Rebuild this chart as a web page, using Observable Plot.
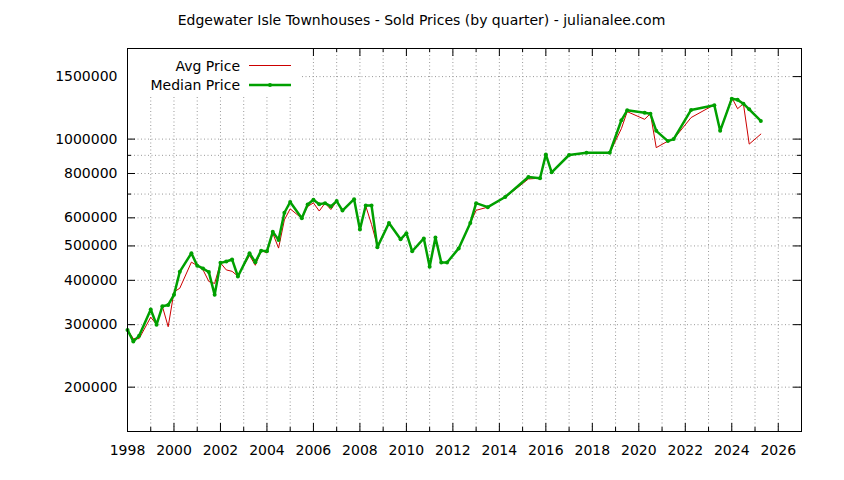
<!DOCTYPE html>
<html>
<head>
<meta charset="utf-8">
<script src="https://cdn.jsdelivr.net/npm/d3@7"></script>
<script src="https://cdn.jsdelivr.net/npm/@observablehq/plot@0.6"></script>
<style>
  html, body { margin: 0; padding: 0; background: white; }
  #wrap { position: relative; width: 844px; height: 480px; }
  #legend { position: absolute; left: 0; top: 0; pointer-events: none; }
</style>
</head>
<body>
<div id="wrap"></div>
<script>
const chartTitle = "Edgewater Isle Townhouses - Sold Prices (by quarter) - julianalee.com";
const seriesNames = ["Avg Price", "Median Price"];

const quarters = [
  1998.0, 1998.25, 1998.5, 1999.0, 1999.25, 1999.5, 1999.75,
  2000.0, 2000.25, 2000.75, 2001.0, 2001.25, 2001.5, 2001.75,
  2002.0, 2002.25, 2002.5, 2002.75, 2003.25, 2003.5, 2003.75,
  2004.0, 2004.25, 2004.5, 2004.75, 2005.0, 2005.5, 2005.75,
  2006.0, 2006.25, 2006.5, 2006.75, 2007.0, 2007.25, 2007.75,
  2008.0, 2008.25, 2008.5, 2008.75, 2009.25, 2009.75,
  2010.0, 2010.25, 2010.75, 2011.0, 2011.25, 2011.5, 2011.75,
  2012.25, 2012.75, 2013.0, 2013.5, 2014.25, 2015.25, 2015.75,
  2016.0, 2016.25, 2017.0, 2017.75, 2018.75, 2019.25, 2019.5,
  2020.25, 2020.5, 2020.75, 2021.25, 2021.5, 2022.25, 2023.25,
  2023.5, 2024.0, 2024.25, 2024.5, 2024.75, 2025.25
];

const avgPrices = [
  290000, 274000, 274000, 315000, 300000, 338000, 296000,
  371000, 380000, 450000, 440000, 428000, 397000, 392000,
  448000, 428000, 424000, 411000, 470000, 441000, 485000,
  478000, 543000, 493000, 592000, 636000, 598000, 646000,
  661000, 627000, 660000, 633000, 668000, 628000, 676000,
  556000, 648000, 575000, 500000, 580000, 522000,
  543000, 483000, 525000, 437000, 528000, 449000, 449000,
  492000, 580000, 630000, 643000, 685000, 772000, 776000,
  905000, 806000, 902000, 915000, 915000, 1070000, 1195000,
  1137000, 1180000, 946000, 987000, 1000000, 1150000, 1250000,
  1055000, 1310000, 1218000, 1258000, 968000, 1033000
];

const medianPrices = [
  290000, 269000, 279000, 331000, 300000, 338000, 341000,
  364000, 423000, 477000, 440000, 432000, 422000, 364000,
  448000, 452000, 458000, 410000, 477000, 450000, 485000,
  483000, 548000, 520000, 620000, 665000, 598000, 654000,
  675000, 655000, 660000, 646000, 669000, 629000, 677000,
  556000, 650000, 650000, 496000, 580000, 522000,
  543000, 483000, 525000, 437000, 528000, 449000, 449000,
  492000, 580000, 660000, 643000, 687000, 782000, 776000,
  905000, 806000, 902000, 915000, 915000, 1130000, 1205000,
  1187000, 1178000, 1055000, 987000, 1000000, 1208000, 1245000,
  1055000, 1300000, 1290000, 1258000, 1213000, 1125000
];

const xMajorTicks = [1998, 2000, 2002, 2004, 2006, 2008, 2010, 2012, 2014, 2016, 2018, 2020, 2022, 2024, 2026];
const xMinorTicks = [1999, 2001, 2003, 2005, 2007, 2009, 2011, 2013, 2015, 2017, 2019, 2021, 2023, 2025];
const yTickLabels = [200000, 300000, 400000, 500000, 600000, 800000, 1000000, 1500000];
const yMinorTicks = [700000, 900000];

const rows = quarters.map((q, i) => ({q, avg: avgPrices[i], median: medianPrices[i]}));

const W = 844, H = 480, mL = 127, mR = 43, mT = 48, mB = 49;
const innerH = H - mT - mB, innerW = W - mL - mR;
const red = "#cc0000", green = "#00a000", gridColor = "#999";
const FS = 14;

const gridYears = xMajorTicks.concat(xMinorTicks).filter(d => d > 1998);
const gridY = yTickLabels.concat(yMinorTicks);

const chart = Plot.plot({
  width: W, height: H,
  marginLeft: mL, marginRight: mR, marginTop: mT, marginBottom: mB,
  style: {fontFamily: "DejaVu Sans, sans-serif", fontSize: FS + "px", background: "white", color: "black"},
  x: {domain: [1998, 2027]},
  y: {type: "log", domain: [150000, 1800000]},
  marks: [
    Plot.ruleX(gridYears, {x: d => d, stroke: gridColor, strokeDasharray: "1,2.5"}),
    Plot.ruleY(gridY, {y: d => d, stroke: gridColor, strokeDasharray: "1,2.5"}),
    Plot.line(rows, {x: "q", y: "avg", stroke: red, strokeWidth: 1}),
    Plot.line(rows, {x: "q", y: "median", stroke: green, strokeWidth: 2.5}),
    Plot.dot(rows, {x: "q", y: "median", r: 2, fill: green}),
    Plot.frame({stroke: "black"}),
    Plot.tickX(xMajorTicks, {x: d => d, insetTop: innerH - 8, stroke: "black"}),
    Plot.tickX(xMajorTicks, {x: d => d, insetBottom: innerH - 8, stroke: "black"}),
    Plot.tickX(xMinorTicks, {x: d => d, insetTop: innerH - 4, stroke: "black"}),
    Plot.tickX(xMinorTicks, {x: d => d, insetBottom: innerH - 4, stroke: "black"}),
    Plot.tickY(yTickLabels, {y: d => d, insetRight: innerW - 8, stroke: "black"}),
    Plot.tickY(yTickLabels, {y: d => d, insetLeft: innerW - 8, stroke: "black"}),
    Plot.tickY(yMinorTicks, {y: d => d, insetRight: innerW - 4, stroke: "black"}),
    Plot.tickY(yMinorTicks, {y: d => d, insetLeft: innerW - 4, stroke: "black"}),
    Plot.axisX({ticks: xMajorTicks, tickSize: 0, tickPadding: 14, tickFormat: d => String(d), label: null, fontSize: FS}),
    Plot.axisY({ticks: yTickLabels, tickSize: 0, tickPadding: 10, tickFormat: d => String(d), label: null, fontSize: FS}),
    Plot.text([chartTitle], {text: d => d, frameAnchor: "top", dx: -43, dy: -28, fontSize: FS, lineAnchor: "middle"})
  ]
});

const wrap = document.getElementById("wrap");
wrap.appendChild(chart);

// legend overlay (inside plot area, top-left)
const ns = "http://www.w3.org/2000/svg";
const lg = document.createElementNS(ns, "svg");
lg.setAttribute("id", "legend");
lg.setAttribute("width", W);
lg.setAttribute("height", H);
lg.setAttribute("font-family", "DejaVu Sans, sans-serif");
lg.setAttribute("font-size", FS);
const bg = document.createElementNS(ns, "rect");
bg.setAttribute("x", 128); bg.setAttribute("y", 49);
bg.setAttribute("width", 172); bg.setAttribute("height", 46);
bg.setAttribute("fill", "white");
lg.appendChild(bg);
const legendRows = [
  {name: seriesNames[0], color: red, width: 1, dot: false, y: 65.5},
  {name: seriesNames[1], color: green, width: 2.5, dot: true, y: 85}
];
legendRows.forEach(r => {
  const t = document.createElementNS(ns, "text");
  t.setAttribute("x", 240); t.setAttribute("y", r.y + 5);
  t.setAttribute("text-anchor", "end");
  t.textContent = r.name;
  lg.appendChild(t);
  const l = document.createElementNS(ns, "line");
  l.setAttribute("x1", 249); l.setAttribute("x2", 291);
  l.setAttribute("y1", r.y); l.setAttribute("y2", r.y);
  l.setAttribute("stroke", r.color); l.setAttribute("stroke-width", r.width);
  lg.appendChild(l);
  if (r.dot) {
    const c = document.createElementNS(ns, "circle");
    c.setAttribute("cx", 270); c.setAttribute("cy", r.y); c.setAttribute("r", 2);
    c.setAttribute("fill", r.color);
    lg.appendChild(c);
  }
});
wrap.appendChild(lg);
</script>
</body>
</html>
